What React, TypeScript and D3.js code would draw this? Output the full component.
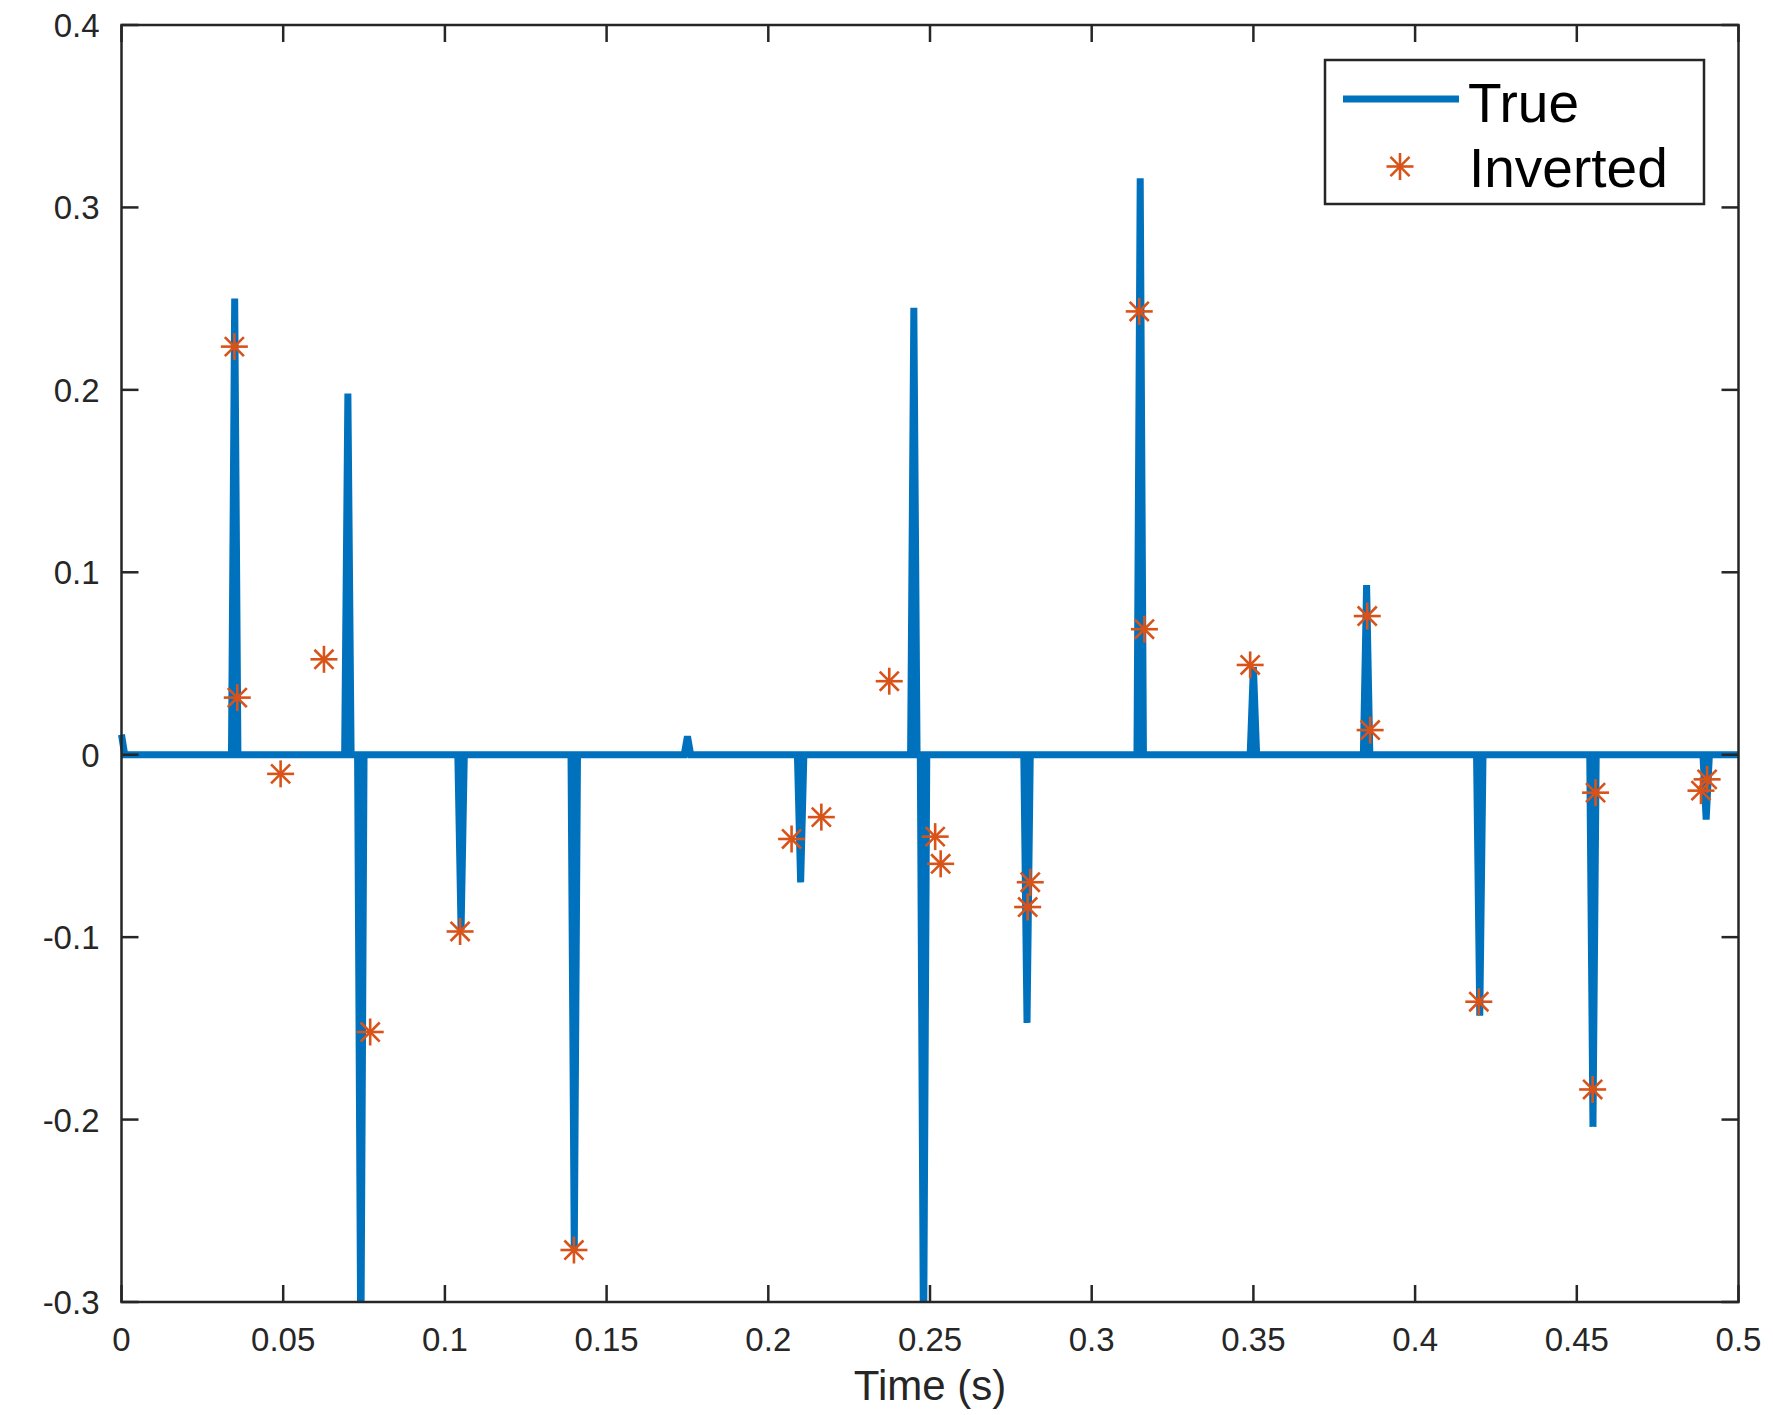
import React from "react";
import * as d3 from "d3";

// True reflectivity: isolated spikes on a 1 ms grid (all other samples are zero)
const dt = 0.001;
const tEnd = 0.5;
const spikeTimes = [0.0, 0.035, 0.07, 0.074, 0.105, 0.14, 0.175, 0.21, 0.245, 0.248, 0.28, 0.315, 0.35, 0.385, 0.42, 0.455, 0.49];
const spikeValues = [0.011, 0.25, 0.198, -0.33, -0.096, -0.272, 0.01, -0.07, 0.245, -0.33, -0.147, 0.316, 0.048, 0.093, -0.143, -0.204, -0.0355];

// Inverted reflectivity estimates
const invTimes = [0.0349, 0.0358, 0.0492, 0.0626, 0.0769, 0.1047, 0.1399, 0.2072, 0.2164, 0.2374, 0.2516, 0.2533, 0.2802, 0.281, 0.3147, 0.3163, 0.349, 0.3852, 0.3861, 0.4197, 0.4549, 0.4558, 0.4884, 0.4903];
const invValues = [0.2237, 0.0313, -0.0105, 0.0523, -0.152, -0.0969, -0.2715, -0.0462, -0.0342, 0.0403, -0.0449, -0.0598, -0.0835, -0.0699, 0.243, 0.0688, 0.0492, 0.076, 0.0135, -0.1354, -0.1835, -0.0208, -0.0197, -0.0135];

const xTicks = [0, 0.05, 0.1, 0.15, 0.2, 0.25, 0.3, 0.35, 0.4, 0.45, 0.5];
const yTicks = [-0.3, -0.2, -0.1, 0, 0.1, 0.2, 0.3, 0.4];

const W = 1773;
const H = 1415;
const left = 121.5;
const right = 1738.5;
const top = 25;
const bottom = 1302;

const BLUE = "#0072BD";
const ORANGE = "#D95319";
const AXIS = "#262626";
const FONT = "'Liberation Sans', Arial, Helvetica, sans-serif";

function buildTrueSeries(): [number, number][] {
  const n = Math.round(tEnd / dt);
  const vals = new Array(n + 1).fill(0);
  spikeTimes.forEach((t, i) => {
    vals[Math.round(t / dt)] = spikeValues[i];
  });
  return vals.map((v, i) => [i * dt, v]);
}

function Asterisk({ x, y, r }: { x: number; y: number; r: number }) {
  const d = r * Math.SQRT1_2;
  return (
    <g stroke={ORANGE} strokeWidth={2.6} fill="none">
      <line x1={x - r} y1={y} x2={x + r} y2={y} />
      <line x1={x} y1={y - r} x2={x} y2={y + r} />
      <line x1={x - d} y1={y - d} x2={x + d} y2={y + d} />
      <line x1={x - d} y1={y + d} x2={x + d} y2={y - d} />
    </g>
  );
}

export default function App() {
  const xScale = d3.scaleLinear().domain([0, 0.5]).range([left, right]);
  const yScale = d3.scaleLinear().domain([-0.3, 0.4]).range([bottom, top]);
  const series = buildTrueSeries();
  const linePath = d3
    .line<[number, number]>()
    .x((d) => xScale(d[0]))
    .y((d) => yScale(d[1]))(series) as string;

  const fmt = (v: number) => (Math.abs(v) < 1e-9 ? "0" : String(+v.toFixed(2)));
  const tickLen = 17;

  return (
    <svg width={W} height={H} style={{ position: "absolute", left: 0, top: 0, background: "#fff" }}>
      <defs>
        <clipPath id="plotClip">
          <rect x={left - 8} y={top} width={right - left + 16} height={bottom - top} />
        </clipPath>
      </defs>
      <rect x={0} y={0} width={W} height={H} fill="#fff" />

      <g clipPath="url(#plotClip)">
        <path d={linePath} fill="none" stroke={BLUE} strokeWidth={7} strokeLinejoin="miter" />
      </g>

      {invTimes.map((t, i) => (
        <Asterisk key={i} x={xScale(t)} y={yScale(invValues[i])} r={13.5} />
      ))}

      {/* axes box and ticks */}
      <g stroke={AXIS} strokeWidth={2.5} fill="none">
        <rect x={left} y={top} width={right - left} height={bottom - top} />
        {xTicks.map((t) => (
          <g key={"xt" + t}>
            <line x1={xScale(t)} x2={xScale(t)} y1={bottom} y2={bottom - tickLen} />
            <line x1={xScale(t)} x2={xScale(t)} y1={top} y2={top + tickLen} />
          </g>
        ))}
        {yTicks.map((v) => (
          <g key={"yt" + v}>
            <line x1={left} x2={left + tickLen} y1={yScale(v)} y2={yScale(v)} />
            <line x1={right} x2={right - tickLen} y1={yScale(v)} y2={yScale(v)} />
          </g>
        ))}
      </g>

      <g fill={AXIS} fontFamily={FONT} fontSize={33}>
        {xTicks.map((t) => (
          <text key={"xl" + t} x={xScale(t)} y={bottom + 49} textAnchor="middle">
            {fmt(t)}
          </text>
        ))}
        {yTicks.map((v) => (
          <text key={"yl" + v} x={left - 22} y={yScale(v) + 12} textAnchor="end">
            {fmt(v)}
          </text>
        ))}
        <text x={(left + right) / 2} y={1400} textAnchor="middle" fontSize={42}>
          Time (s)
        </text>
      </g>

      {/* legend */}
      <g>
        <rect x={1325} y={60} width={379} height={144} fill="#fff" stroke={AXIS} strokeWidth={2.5} />
        <line x1={1343} x2={1459} y1={99} y2={99} stroke={BLUE} strokeWidth={7} />
        <Asterisk x={1400} y={166.5} r={13.5} />
        <g fontFamily={FONT} fontSize={55} fill="#000">
          <text x={1468} y={121.5}>True</text>
          <text x={1469} y={186.5}>Inverted</text>
        </g>
      </g>
    </svg>
  );
}
